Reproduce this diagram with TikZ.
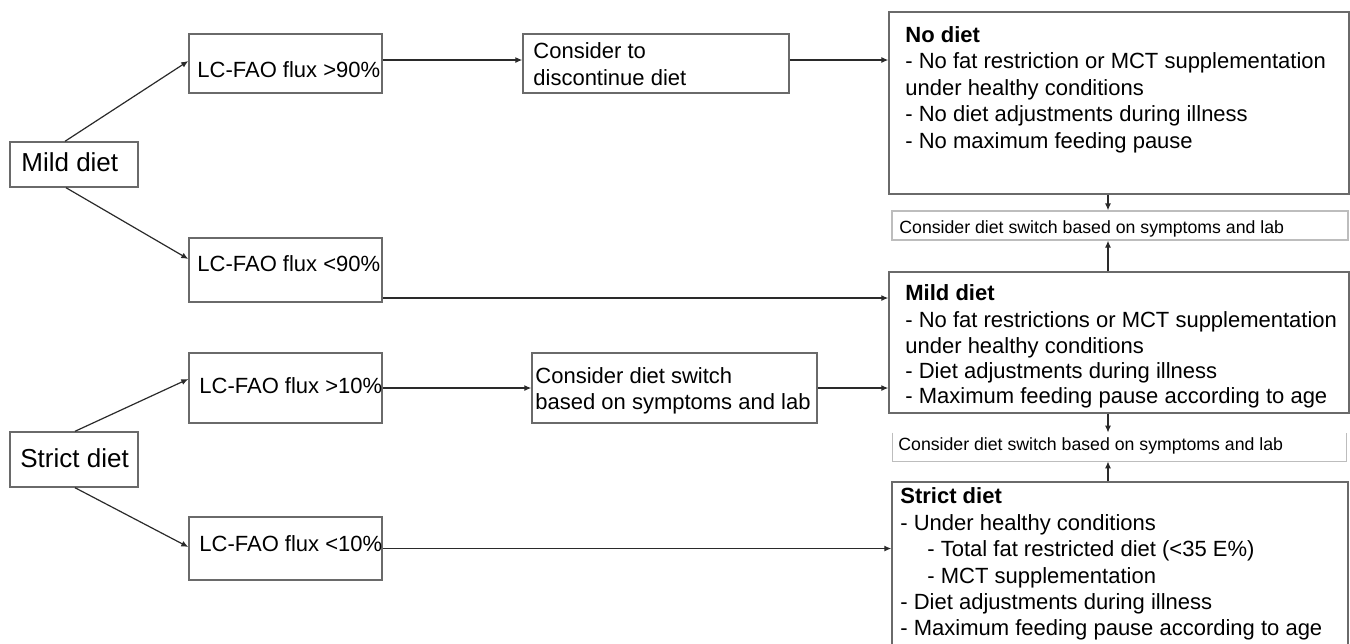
\documentclass[tikz,border=0pt]{standalone}
\usepackage{fontspec}
\setmainfont{Liberation Sans}
\usetikzlibrary{arrows.meta,fit}
\definecolor{boxgray}{HTML}{6A6A6A}
\definecolor{linegray}{HTML}{2A2A2A}
\definecolor{lightbox}{HTML}{BDBDBD}
\begin{document}
\begin{tikzpicture}[x=0.5pt,y=-0.5pt,
  bx/.style={draw=boxgray, line width=0.7pt, inner sep=0pt},
  lbx/.style={draw=lightbox, line width=0.6pt, inner sep=0pt},
  tx/.style={anchor=base west, inner sep=0pt, font=\fontsize{11}{13}\selectfont},
  big/.style={anchor=base west, inner sep=0pt, font=\fontsize{13}{15}\selectfont},
  sm/.style={anchor=base west, inner sep=0pt, font=\fontsize{8.85}{10}\selectfont},
  ttl/.style={anchor=base west, inner sep=0pt, font=\fontsize{11}{13}\selectfont\bfseries},
  arr/.style={draw=linegray, line width=0.6pt, -{Latex[length=3.5pt,width=3pt]}}]
\useasboundingbox (0,0) rectangle (1350,643);
\clip (0,0) rectangle (1350,643);

% boxes
\node[bx, fit={(10,142)(138,187)}] (mildL) {};
\node[bx, fit={(10,432)(138,487)}] (strictL) {};
\node[bx, fit={(189,34)(382,93)}] (f1) {};
\node[bx, fit={(189,238)(382,302)}] (f2) {};
\node[bx, fit={(189,353)(382,423)}] (f3) {};
\node[bx, fit={(189,517)(382,580)}] (f4) {};
\node[bx, fit={(523,34)(789,93)}] (disc) {};
\node[bx, fit={(532,353)(817,423)}] (sw) {};
\node[bx, fit={(889,12)(1349,194)}] (nodiet) {};
\node[lbx, fit={(892,211)(1348,240)}] (s1) {};
\node[bx, fit={(889,272)(1349,413)}] (mildR) {};
\node[inner sep=0pt, fit={(893,433)(1346,461)}] (s2) {};
\draw[draw=lightbox, line width=0.6pt] (s2.north west) -- (s2.south west) -- (s2.south east) -- (s2.north east);
\node[bx, fit={(892,482)(1348,660)}] (strictR) {};

% texts
\node[big] (tmildL) at (21,171) {Mild diet};
\node[big] (tstrictL) at (20,467) {Strict diet};
\node[tx] (tf1) at (197,77) {LC-FAO flux >90\%};
\node[tx] (tf2) at (197,271) {LC-FAO flux <90\%};
\node[tx] (tf3) at (199,393) {LC-FAO flux >10\%};
\node[tx] (tf4) at (199,551) {LC-FAO flux <10\%};
\node[tx] (td1) at (533,58) {Consider to};
\node[tx] (td2) at (533,85) {discontinue diet};
\node[tx] (tw1) at (535,383) {Consider diet switch};
\node[tx] (tw2) at (535,409) {based on symptoms and lab};

\node[ttl] (tn0) at (905,42) {No diet};
\node[tx] (tn1) at (905,68.5) {- No fat restriction or MCT supplementation};
\node[tx] (tn2) at (905,95) {under healthy conditions};
\node[tx] (tn3) at (905,121.5) {- No diet adjustments during illness};
\node[tx] (tn4) at (905,148) {- No maximum feeding pause};

\node[sm] (ts1) at (899,233) {Consider diet switch based on symptoms and lab};

\node[ttl] (tm0) at (905,300) {Mild diet};
\node[tx] (tm1) at (905,327) {- No fat restrictions or MCT supplementation};
\node[tx] (tm2) at (905,353) {under healthy conditions};
\node[tx] (tm3) at (905,378) {- Diet adjustments during illness};
\node[tx] (tm4) at (905,403) {- Maximum feeding pause according to age};

\node[sm] (ts2) at (898,450) {Consider diet switch based on symptoms and lab};

\node[ttl] (tr0) at (900,503) {Strict diet};
\node[tx] (tr1) at (900,530) {- Under healthy conditions};
\node[tx] (tr2) at (927,556) {- Total fat restricted diet (<35 E\%)};
\node[tx] (tr3) at (927,583) {- MCT supplementation};
\node[tx] (tr4) at (900,609) {- Diet adjustments during illness};
\node[tx] (tr5) at (900,635) {- Maximum feeding pause according to age};

% connectors left
\draw[arr] ([xshift=-4.5pt]mildL.north) -- ([yshift=1.25pt]f1.west);
\draw[arr] ([xshift=-4pt]mildL.south) -- ([yshift=5.5pt]f2.west);
\draw[arr] ([xshift=0.5pt]strictL.north) -- ([yshift=4.5pt]f3.west);
\draw[arr] ([xshift=0.5pt]strictL.south) -- ([yshift=0.75pt]f4.west);

% connectors horizontal
\draw[arr] ([yshift=1.75pt]f1.east) -- ([yshift=1.75pt]disc.west);
\draw[arr] ([yshift=1.75pt]disc.east) coordinate (d1) -- (d1 -| nodiet.west);
\draw[arr] ([yshift=-14pt]f2.east) coordinate (c2) -- (c2 -| mildR.west);
\draw[arr] (f3.east) -- (sw.west);
\draw[arr] (sw.east) -- (sw.east -| mildR.west);
\draw[arr] (f4.east) -- (f4.east -| strictR.west);

% vertical connectors
\coordinate (vx) at (1108,0);
\draw[arr] (vx |- nodiet.south) -- (vx |- s1.north);
\draw[arr] (vx |- mildR.north) -- (vx |- s1.south);
\draw[arr] (vx |- mildR.south) -- (vx |- s2.north);
\draw[arr] (vx |- strictR.north) -- (vx |- s2.south);
\end{tikzpicture}
\end{document}
